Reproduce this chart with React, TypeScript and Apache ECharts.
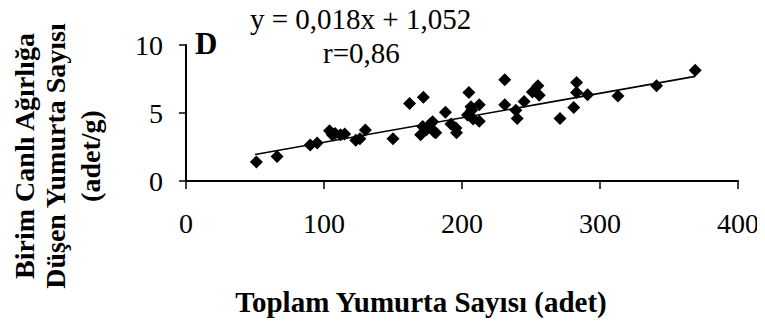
import React, { useEffect, useRef } from "react";
import * as echarts from "echarts";

// Toplam yumurta sayısı (adet)
const totalEggs: number[] = [
  51, 66, 90, 95, 104, 106, 108, 112, 115, 123, 126, 130, 150, 162, 172, 170,
  171.5, 174, 178.7, 177, 180, 181, 188, 192, 195.6, 196, 205, 204, 206.5, 207,
  208, 212.5, 212.5, 231, 231, 239, 240, 245, 251, 255, 256, 271, 281, 283,
  283, 291, 313, 341, 369,
];
// Birim canlı ağırlığa düşen yumurta sayısı (adet/g)
const eggsPerGram: number[] = [
  1.4, 1.8, 2.65, 2.8, 3.7, 3.4, 3.5, 3.4, 3.45, 3.0, 3.1, 3.75, 3.1, 5.7, 6.15,
  3.4, 4.0, 3.75, 4.35, 4.2, 3.6, 3.55, 5.05, 4.2, 3.9, 3.55, 6.5, 4.85, 5.46,
  5.2, 4.55, 5.6, 4.4, 7.45, 5.6, 5.2, 4.6, 5.85, 6.55, 7.0, 6.3, 4.6, 5.4, 7.25,
  6.5, 6.35, 6.25, 7.0, 8.15,
];

// Regresyon: y = 0,018x + 1,052 ; r = 0,86
const slope = 0.018;
const intercept = 1.052;
const fitRange: number[] = [50, 369];
const equationText = "y = 0,018x + 1,052";
const rText = "r=0,86";
const panelLabel = "D";

const xTicks: number[] = [0, 400, 100];
const yTicks: number[] = [0, 10, 5];

const xTitle = "Toplam Yumurta Sayısı (adet)";
const yTitleLines: string[] = [
  "Birim Canlı Ağırlığa",
  "Düşen Yumurta Sayısı",
  "(adet/g)",
];

const FONT = "'Liberation Serif', 'Times New Roman', serif";

export default function App() {
  const ref = useRef<HTMLDivElement>(null);

  useEffect(() => {
    if (!ref.current) return;
    const chart = echarts.init(ref.current, null, { renderer: "svg" });

    const points = totalEggs.map((x, i) => [x, eggsPerGram[i]]);
    const fit = fitRange.map((x) => [x, slope * x + intercept]);

    const yTitleX = [24, 55, 90];

    chart.setOption({
      animation: false,
      backgroundColor: "#ffffff",
      grid: { left: 186, right: 27, top: 45, bottom: 145 },
      xAxis: {
        type: "value",
        min: xTicks[0],
        max: xTicks[1],
        interval: xTicks[2],
        axisLine: { show: true, lineStyle: { color: "#000", width: 2 } },
        axisTick: { show: true, length: 8, inside: false, lineStyle: { color: "#000", width: 1.5 } },
        axisLabel: {
          margin: 28,
          color: "#000",
          fontFamily: FONT,
          fontSize: 28,
        },
        splitLine: { show: false },
      },
      yAxis: {
        type: "value",
        min: yTicks[0],
        max: yTicks[1],
        interval: yTicks[2],
        axisLine: { show: true, lineStyle: { color: "#000", width: 2 } },
        axisTick: { show: true, length: 7, inside: false, lineStyle: { color: "#000", width: 1.5 } },
        axisLabel: {
          margin: 23,
          color: "#000",
          fontFamily: FONT,
          fontSize: 28,
        },
        splitLine: { show: false },
      },
      series: [
        {
          type: "line",
          data: fit,
          symbol: "none",
          lineStyle: { color: "#000", width: 1.6 },
          z: 1,
        },
        {
          type: "scatter",
          data: points,
          symbol: "diamond",
          symbolSize: 13,
          itemStyle: { color: "#000", opacity: 1 },
          z: 2,
        },
      ],
      graphic: [
        {
          type: "text",
          x: 195,
          y: 43,
          style: {
            text: panelLabel,
            font: `bold 31px ${FONT}`,
            fill: "#000",
            textAlign: "left",
            textVerticalAlign: "middle",
          },
        },
        {
          type: "text",
          x: 250,
          y: 19,
          style: {
            text: equationText,
            font: `29px ${FONT}`,
            fill: "#000",
            textAlign: "left",
            textVerticalAlign: "middle",
          },
        },
        {
          type: "text",
          x: 323,
          y: 53,
          style: {
            text: rText,
            font: `29px ${FONT}`,
            fill: "#000",
            textAlign: "left",
            textVerticalAlign: "middle",
          },
        },
        {
          type: "text",
          x: 421,
          y: 302,
          style: {
            text: xTitle,
            font: `bold 29px ${FONT}`,
            fill: "#000",
            textAlign: "center",
            textVerticalAlign: "middle",
          },
        },
        ...yTitleLines.map((line, i) => ({
          type: "text",
          x: yTitleX[i],
          y: 156,
          rotation: Math.PI / 2,
          style: {
            text: line,
            font: `bold 28px ${FONT}`,
            fill: "#000",
            textAlign: "center",
            textVerticalAlign: "middle",
          },
        })),
      ],
    });

    return () => chart.dispose();
  }, []);

  return <div ref={ref} style={{ width: 765, height: 326, margin: -8 }} />;
}
